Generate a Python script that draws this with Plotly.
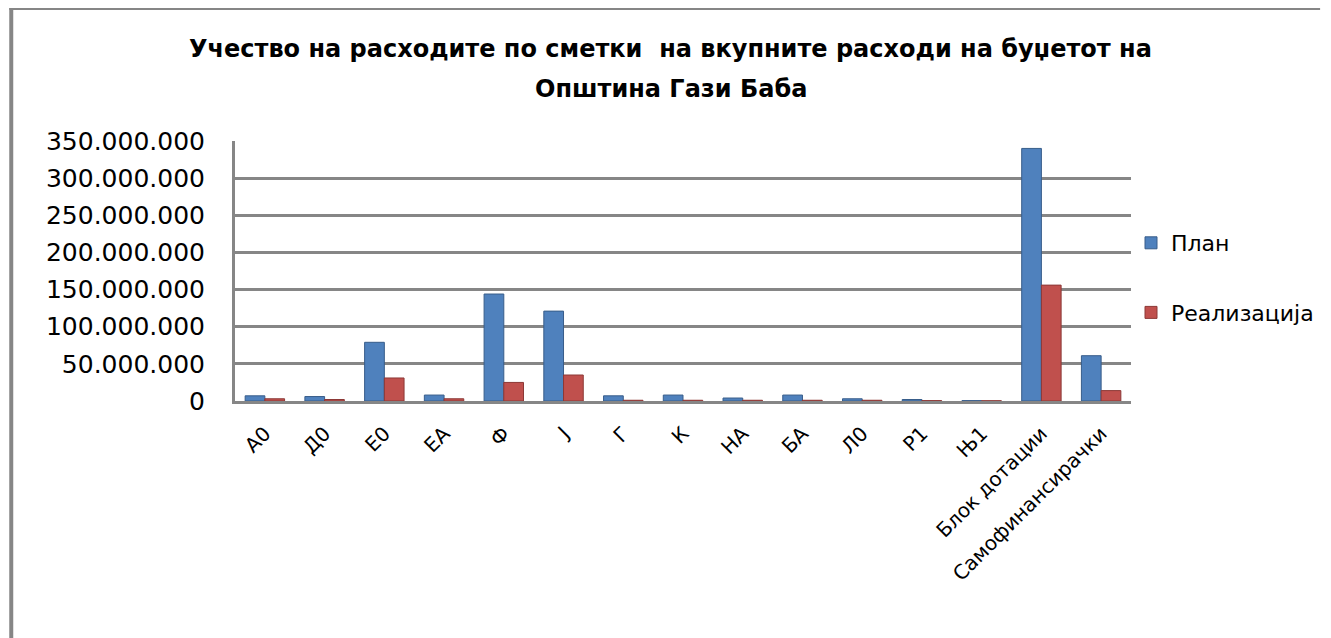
import plotly.graph_objects as go

categories = ["А0", "Д0", "Е0", "ЕА", "Ф", "Ј", "Г", "К", "НА", "БА", "Л0", "Р1", "Њ1",
              "Блок дотации", "Самофинансирачки"]
plan = [7e6, 6e6, 79e6, 8e6, 144e6, 121e6, 7e6, 8e6, 4e6, 8e6, 3e6, 2e6, 0.5e6, 340e6, 61e6]
realizacija = [3e6, 2e6, 31e6, 3e6, 25e6, 35e6, 1e6, 1e6, 1e6, 1e6, 1e6, 0.5e6, 0.3e6, 156e6, 14e6]
y_ticks = [0, 50e6, 100e6, 150e6, 200e6, 250e6, 300e6, 350e6]
title_lines = ["Учество на расходите по сметки  на вкупните расходи на буџетот на",
               "Општина Гази Баба"]

# page body has an 8px margin; figure sized to fit the 1331x638 window
OFF = 8
W, H = 1331 - OFF, 638 - OFF
L, T = 235 - OFF, 141 - OFF
R = W - (1140 - OFF)
B = H - (401 - OFF)
pw, ph = W - L - R, H - T - B


def px(x):
    return (x - OFF - L) / pw


def py(y):
    return (H - B - (y - OFF)) / ph


GRID = "#868686"
FONT = "DejaVu Sans"

fig = go.Figure()
fig.add_trace(go.Bar(x=categories, y=plan, name="План", legendgroup="a",
                     marker=dict(color="#4F81BD", line=dict(color="#385D8A", width=1))))
fig.add_trace(go.Bar(x=categories, y=realizacija, name="Реализација", legendgroup="b",
                     marker=dict(color="#C0504D", line=dict(color="#8C3836", width=1))))

fig.update_layout(
    width=W, height=H,
    margin=dict(l=L, r=R, t=T, b=B, pad=0),
    paper_bgcolor="white", plot_bgcolor="white",
    separators=",.",
    barmode="group", bargap=0.34, bargroupgap=0.0,
    font=dict(family=FONT, color="black"),
    showlegend=True,
    legend=dict(x=px(1140), y=py(222), xanchor="left", yanchor="top",
                font=dict(family=FONT, size=22), tracegroupgap=38,
                itemwidth=30, bgcolor="rgba(0,0,0,0)"),
    xaxis=dict(type="category", tickangle=-45, tickfont=dict(family=FONT, size=20),
               showline=True, linecolor=GRID, linewidth=3, ticks="", showgrid=False,
               ticklabelstandoff=10),
    yaxis=dict(range=[0, 350e6], tickvals=y_ticks, tickformat=",d",
               tickfont=dict(family=FONT, size=25), showgrid=True, gridcolor=GRID,
               gridwidth=2.5, showline=True, linecolor=GRID, linewidth=3,
               zeroline=False, ticks="", ticklabelstandoff=22),
)

for i, yy in enumerate([49, 89]):
    fig.add_annotation(text="<b>" + title_lines[i] + "</b>", x=px(675), y=py(yy),
                       xref="paper", yref="paper", showarrow=False,
                       font=dict(family=FONT, size=24, color="black"),
                       xanchor="center", yanchor="middle")

# outer chart frame (top and left edges visible in the reference)
fig.add_shape(type="line", xref="paper", yref="paper", x0=px(7), x1=px(1331), y0=py(9), y1=py(9),
              line=dict(color=GRID, width=2))
fig.add_shape(type="line", xref="paper", yref="paper", x0=px(9), x1=px(9), y0=py(8), y1=py(640),
              line=dict(color=GRID, width=4))

fig.write_html("out.html")
